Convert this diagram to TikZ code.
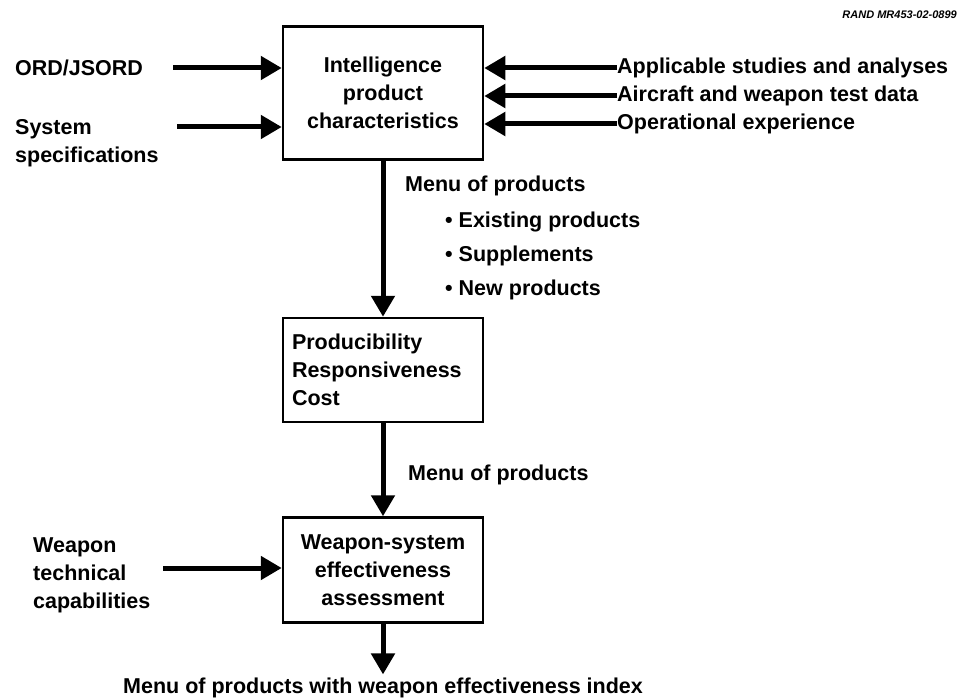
\documentclass[tikz,border=0pt]{standalone}
\usepackage{fontspec}
\setmainfont{Liberation Sans}
\usetikzlibrary{arrows.meta,positioning}

\begin{document}
\begin{tikzpicture}[x=1pt, y=-1pt, font=\bfseries\fontsize{21.5}{28}\selectfont,
  box/.style={draw, line width=2.5pt, minimum width=200pt, inner sep=0pt, align=center},
  lbl/.style={inner sep=0pt, align=left},
  flow/.style={line width=5pt, -{Triangle[length=21pt, width=23pt]}}]
  \useasboundingbox (0,0) rectangle (961,698);

  % the three steps
  \node[box, minimum height=133pt] (intel) at (383,93) {Intelligence\\product\\characteristics};
  \node[box, minimum height=104pt, align=left, text width=182pt] (prod) at (383,370) {Producibility\\Responsiveness\\Cost};
  \node[box, minimum height=105pt] (assess) at (383,570) {Weapon-system\\effectiveness\\assessment};

  \node[anchor=east, inner sep=0pt, font=\bfseries\itshape\fontsize{11}{12}\selectfont] (tag) at (957,15) {RAND MR453-02-0899};

  % inputs on the left
  \node[lbl, anchor=west] (ord) at (15,68) {ORD/JSORD};
  \node[lbl, anchor=north west] (sys) at (15,119) {System\\specifications};
  \coordinate (sysin) at (177,127);
  \draw[flow, shorten <=30pt] (ord) -- (ord -| intel.west);
  \draw[flow] (sysin) -- (sysin -| intel.west);

  % inputs on the right
  \node[lbl, anchor=west] (studies) at (617,68) {Applicable studies and analyses};
  \node[lbl, anchor=west] (tests) at (617,96) {Aircraft and weapon test data};
  \node[lbl, anchor=west] (exper) at (617,124) {Operational experience};
  \draw[flow] (studies.west) -- (studies -| intel.east);
  \draw[flow] (tests.west) -- (tests -| intel.east);
  \draw[flow] (exper.west) -- (exper -| intel.east);

  % menu of products
  \node[lbl, anchor=west] (menu) at (405,186) {Menu of products};
  \node[lbl, anchor=west] (exist) at (445,222) {\textbullet\ Existing products};
  \node[lbl, anchor=west] (supp) at (445,256) {\textbullet\ Supplements};
  \node[lbl, anchor=west] (newp) at (445,290) {\textbullet\ New products};
  \draw[flow] (intel) -- (prod);

  \node[lbl, anchor=west] (menub) at (408,475) {Menu of products};
  \draw[flow] (prod) -- (assess);

  \node[lbl, anchor=west] (wtech) at (33,575) {Weapon\\technical\\capabilities};
  \coordinate (wtechin) at (163,568);
  \draw[flow] (wtechin) -- (wtechin -| assess.west);

  \node (result) at (383,688) {Menu of products with weapon effectiveness index};
  \draw[flow] (assess) -- (result);
\end{tikzpicture}
\end{document}
